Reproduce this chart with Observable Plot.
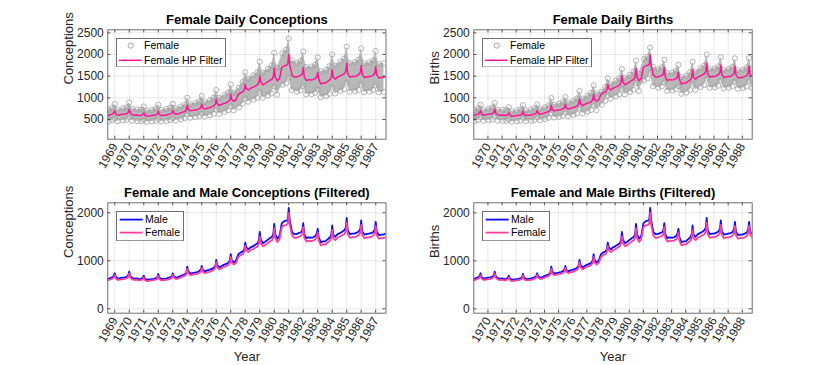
<!DOCTYPE html>
<html>
<head>
<meta charset="utf-8">
<script src="https://cdn.jsdelivr.net/npm/d3@7"></script>
<script src="https://cdn.jsdelivr.net/npm/@observablehq/plot@0.6"></script>
<style>
  html, body { margin: 0; padding: 0; background: #fff; }
  #chart { position: relative; width: 830px; height: 365px; background: #fff; overflow: hidden;
           font-family: "Liberation Sans", Arial, Helvetica, sans-serif; }
  #chart > svg, #chart > .legend { position: absolute; }
</style>
</head>
<body>
<div id="chart"></div>
<script>
// ---------------- DATA ----------------
const firstYear = 1969;
const conceptionTicks = [1969,1970,1971,1972,1973,1974,1975,1976,1977,1978,1979,1980,1981,1982,1983,1984,1985,1986,1987];
const birthTicks      = [1970,1971,1972,1973,1974,1975,1976,1977,1978,1979,1980,1981,1982,1983,1984,1985,1986,1987,1988];
const conceptionLag = 0.48;          // years between a birth date and its conception date on the axes
const conceptionDomain = [1968.52, 1987.71];
const birthDomain = [1969.0, 1988.70];
const topYTicks = [500, 1000, 1500, 2000, 2500];
const bottomYTicks = [0, 1000, 2000];
const topYDomain = [45, 2570];
const bottomYDomain = [-92, 2208];

// sample positions inside each birth year for the filtered series
const linePhase = [0.00, 0.17, 0.33, 0.42, 0.48, 0.55, 0.70, 0.85];
// sample positions inside each birth year for the daily-scatter envelope
const bandPhase = [0.05, 0.30, 0.48, 0.68];

// Female HP-filtered daily counts (1969 ... 1988)
const femaleHP = [
  590, 610, 630, 660, 700, 630, 600, 610,
  620, 625, 640, 670, 735, 650, 610, 600,
  605, 590, 600, 620, 655, 600, 575, 580,
  590, 595, 610, 630, 690, 620, 590, 595,
  600, 615, 630, 650, 705, 650, 620, 630,
  650, 670, 690, 720, 830, 740, 700, 710,
  720, 730, 750, 780, 850, 770, 740, 760,
  770, 790, 820, 860, 970, 870, 820, 850,
  870, 890, 920, 960, 1080, 960, 920, 960,
  1080, 1120, 1140, 1190, 1310, 1220, 1180, 1220,
  1240, 1270, 1300, 1360, 1510, 1370, 1300, 1330,
  1360, 1400, 1430, 1490, 1680, 1480, 1390, 1450,
  1700, 1740, 1750, 1780, 2000, 1760, 1530, 1480,
  1480, 1500, 1520, 1560, 1700, 1480, 1400, 1420,
  1410, 1420, 1450, 1500, 1590, 1420, 1320, 1340,
  1340, 1380, 1420, 1480, 1650, 1470, 1430, 1480,
  1500, 1530, 1560, 1620, 1800, 1560, 1480, 1490,
  1490, 1510, 1540, 1590, 1750, 1540, 1470, 1480,
  1490, 1500, 1530, 1580, 1720, 1530, 1460, 1470,
  1470, 1490, 1520, 1580, 1730, 1540, 1480
];
// Male HP-filtered daily counts
const maleHP = [
  620, 640, 660, 690, 740, 660, 630, 640,
  650, 655, 670, 705, 775, 680, 640, 630,
  635, 620, 630, 650, 690, 630, 605, 610,
  620, 625, 640, 660, 726, 650, 620, 625,
  630, 645, 660, 680, 740, 680, 650, 660,
  680, 700, 725, 755, 880, 780, 735, 745,
  755, 765, 790, 820, 893, 810, 780, 800,
  810, 830, 860, 900, 1020, 915, 860, 890,
  915, 935, 965, 1010, 1140, 1010, 965, 1010,
  1135, 1175, 1195, 1250, 1380, 1280, 1240, 1280,
  1300, 1335, 1365, 1430, 1600, 1440, 1365, 1395,
  1430, 1470, 1500, 1565, 1770, 1555, 1460, 1520,
  1780, 1825, 1835, 1870, 2100, 1850, 1605, 1555,
  1555, 1575, 1595, 1640, 1785, 1555, 1470, 1490,
  1480, 1490, 1520, 1575, 1665, 1490, 1385, 1405,
  1405, 1450, 1490, 1555, 1735, 1545, 1500, 1555,
  1575, 1605, 1640, 1700, 1895, 1640, 1555, 1565,
  1565, 1585, 1615, 1670, 1840, 1615, 1545, 1555,
  1565, 1575, 1605, 1660, 1810, 1605, 1535, 1545,
  1545, 1565, 1595, 1660, 1810, 1615, 1555
];

// Envelope of the female daily conceptions scatter
const concDailyHigh = [
  725, 770, 860, 730,   755, 780, 890, 745,   730, 730, 800, 700,   720, 745, 840, 720,
  740, 770, 860, 755,   800, 840, 1000, 855,  880, 915, 1040, 900,  945, 1000, 1180, 1000,
  1065, 1120, 1310, 1120, 1230, 1365, 1590, 1440, 1520, 1585, 1830, 1585, 1665, 1745, 2040, 1695,
  2030, 2110, 2370, 1865, 1805, 1855, 2070, 1710, 1720, 1770, 1930, 1610, 1645, 1730, 2000, 1745,
  1835, 1905, 2180, 1805, 1825, 1880, 2140, 1795, 1815, 1865, 2080, 1780, 1800, 1855, 2090, 1805
];
const concDailyLow = [
  460, 485, 525, 460,   475, 495, 550, 470,   460, 460, 490, 445,   455, 470, 515, 455,
  465, 485, 530, 475,   505, 530, 620, 540,   555, 575, 640, 570,   595, 630, 730, 630,
  675, 710, 810, 710,   780, 860, 985, 910,   960, 1000, 1135, 1000, 1050, 1100, 1260, 1070,
  1300, 1335, 1470, 1180, 1140, 1170, 1275, 1080, 1085, 1115, 1190, 1015, 1040, 1095, 1240, 1100,
  1160, 1200, 1350, 1140, 1150, 1185, 1310, 1130, 1145, 1180, 1290, 1125, 1135, 1170, 1300, 1140
];
// Envelope of the female daily births scatter
const birthDailyHigh = [
  715, 755, 840, 720,   745, 770, 880, 730,   720, 720, 785, 690,   710, 730, 830, 710,
  725, 755, 845, 745,   785, 830, 995, 840,   865, 900, 1020, 890,  930, 985, 1160, 985,
  1050, 1105, 1290, 1100, 1140, 1255, 1450, 1320, 1395, 1455, 1665, 1455, 1530, 1600, 1860, 1555,
  1900, 1950, 2160, 1715, 1660, 1700, 1880, 1570, 1580, 1625, 1760, 1480, 1510, 1590, 1830, 1600,
  1685, 1745, 2000, 1660, 1675, 1725, 1940, 1645, 1670, 1715, 1910, 1635, 1650, 1700, 1920, 1660
];
const birthDailyLow = [
  465, 490, 545, 470,   485, 500, 575, 475,   470, 470, 510, 450,   460, 475, 540, 460,
  470, 490, 550, 485,   510, 540, 650, 545,   560, 585, 665, 575,   605, 640, 755, 640,
  680, 720, 840, 715,   840, 930, 1060, 980,  1035, 1080, 1210, 1080, 1135, 1185, 1345, 1155,
  1400, 1445, 1580, 1270, 1230, 1260, 1360, 1160, 1170, 1205, 1270, 1095, 1120, 1180, 1320, 1185,
  1250, 1295, 1440, 1230, 1240, 1280, 1400, 1220, 1235, 1270, 1375, 1210, 1225, 1260, 1385, 1230
];

// ---------------- build tables ----------------
function seriesRows(values, phases, shift) {
  return values.map((v, i) => ({
    t: firstYear + Math.floor(i / phases.length) + phases[i % phases.length] - shift,
    v
  }));
}
function bandRows(lo, hi, phases, shift) {
  return lo.map((l, i) => ({
    t: firstYear + Math.floor(i / phases.length) + phases[i % phases.length] - shift,
    lo: l, hi: hi[i]
  }));
}
const inside = (dom) => (d) => d.t >= dom[0] - 0.06 && d.t <= dom[1] + 0.06;

const concFemale = seriesRows(femaleHP, linePhase, conceptionLag).filter(inside(conceptionDomain));
const concMale = seriesRows(maleHP, linePhase, conceptionLag).filter(inside(conceptionDomain));
const birthFemale = seriesRows(femaleHP, linePhase, 0).filter(inside(birthDomain));
const birthMale = seriesRows(maleHP, linePhase, 0).filter(inside(birthDomain));
const concBand = bandRows(concDailyLow, concDailyHigh, bandPhase, conceptionLag).filter(inside(conceptionDomain));
const birthBand = bandRows(birthDailyLow, birthDailyHigh, bandPhase, 0).filter(inside(birthDomain));

// ---------------- styling ----------------
const FONT = "'Liberation Sans', Arial, Helvetica, sans-serif";
const INK = "#262626";
const PINK = "#ff1493";
const PINK2 = "#ff3d9a";
const BLUE = "#0a0aff";
const GRAY_FILL = "#b8b8b8";
const GRAY_EDGE = "#a0a0a0";

function panel(cfg) {
  const {left, top, width, height, ml, mr, mt, mb, xDomain, xTicks, yDomain, yTicks,
         title, ylabel, xlabel, marks} = cfg;
  const frameH = height - mt - mb;
  const frameW = width - ml - mr;
  const svg = Plot.plot({
    width, height,
    marginLeft: ml, marginRight: mr, marginTop: mt, marginBottom: mb,
    style: {fontFamily: FONT, fontSize: "12px", color: INK, background: "transparent", overflow: "visible"},
    x: {domain: xDomain, label: null},
    y: {domain: yDomain, label: null},
    marks: [
      Plot.gridX(xTicks, {stroke: INK, strokeOpacity: 0.13, strokeWidth: 0.8}),
      Plot.gridY(yTicks, {stroke: INK, strokeOpacity: 0.13, strokeWidth: 0.8}),
      ...marks,
      // inward tick marks on all four sides
      Plot.ruleX(xTicks, {insetTop: frameH - 3, stroke: INK, strokeWidth: 0.8}),
      Plot.ruleX(xTicks, {insetBottom: frameH - 3, stroke: INK, strokeWidth: 0.8}),
      Plot.ruleY(yTicks, {insetRight: frameW - 3, stroke: INK, strokeWidth: 0.8}),
      Plot.ruleY(yTicks, {insetLeft: frameW - 3, stroke: INK, strokeWidth: 0.8}),
      Plot.axisX(xTicks, {anchor: "bottom", tickSize: 0, tickPadding: 5, tickRotate: -60,
                          tickFormat: (d) => String(d), fontSize: 12, fill: INK}),
      Plot.axisY(yTicks, {anchor: "left", tickSize: 0, tickPadding: 4,
                          tickFormat: (d) => String(d), fontSize: 12, fill: INK}),
      Plot.frame({stroke: "#6e6e6e", strokeWidth: 1}),
      Plot.text([title], {text: (d) => d, frameAnchor: "top", lineAnchor: "middle", dy: -10,
                          fontWeight: "bold", fontSize: 13, fill: "#000"}),
      Plot.text([ylabel], {text: (d) => d, frameAnchor: "left", lineAnchor: "middle", rotate: -90,
                           dx: -39, fontSize: 13, fill: INK}),
      ...(xlabel ? [Plot.text([xlabel], {text: (d) => d, frameAnchor: "bottom", lineAnchor: "middle",
                                         dy: 44, fontSize: 13, fill: INK})] : [])
    ]
  });
  svg.style.left = left + "px";
  svg.style.top = top + "px";
  return svg;
}

function legend(left, top, w, h, items, textX) {
  const div = document.createElement("div");
  div.className = "legend";
  div.style.left = left + "px";
  div.style.top = top + "px";
  let s = `<svg width="${w}" height="${h}" xmlns="http://www.w3.org/2000/svg" style="display:block;font-family:${FONT}">`;
  s += `<rect x="0.5" y="0.5" width="${w - 1}" height="${h - 1}" fill="#fff" stroke="#6e6e6e" stroke-width="1"/>`;
  for (const it of items) {
    if (it.kind === "circle") {
      s += `<circle cx="${it.cx}" cy="${it.y}" r="2.6" fill="none" stroke="${it.color}" stroke-width="0.9"/>`;
    } else {
      s += `<line x1="${it.x1}" x2="${it.x2}" y1="${it.y}" y2="${it.y}" stroke="${it.color}" stroke-width="${it.sw}"/>`;
    }
    s += `<text x="${textX}" y="${it.y}" dy="0.35em" font-size="10.5" fill="#000">${it.label}</text>`;
  }
  s += `</svg>`;
  div.innerHTML = s;
  return div;
}

const chart = document.getElementById("chart");

// ---- top-left: Female Daily Conceptions ----
chart.appendChild(panel({
  left: 0, top: 0, width: 415, height: 182, ml: 107.3, mr: 29.5, mt: 29.3, mb: 43.3,
  xDomain: conceptionDomain, xTicks: conceptionTicks, yDomain: topYDomain, yTicks: topYTicks,
  title: "Female Daily Conceptions", ylabel: "Conceptions",
  marks: [
    Plot.areaY(concBand, {x: "t", y1: "lo", y2: "hi", fill: GRAY_FILL, clip: true}),
    Plot.dot(concBand, {x: "t", y: "hi", r: 2.6, stroke: GRAY_EDGE, strokeWidth: 0.8, clip: true}),
    Plot.dot(concBand, {x: "t", y: "lo", r: 2.6, stroke: GRAY_EDGE, strokeWidth: 0.8, clip: true}),
    Plot.line(concFemale, {x: "t", y: "v", stroke: PINK, strokeWidth: 1.5, clip: true})
  ]
}));
// ---- top-right: Female Daily Births ----
chart.appendChild(panel({
  left: 415, top: 0, width: 415, height: 182, ml: 58.3, mr: 78.3, mt: 29.3, mb: 43.3,
  xDomain: birthDomain, xTicks: birthTicks, yDomain: topYDomain, yTicks: topYTicks,
  title: "Female Daily Births", ylabel: "Births",
  marks: [
    Plot.areaY(birthBand, {x: "t", y1: "lo", y2: "hi", fill: GRAY_FILL, clip: true}),
    Plot.dot(birthBand, {x: "t", y: "hi", r: 2.6, stroke: GRAY_EDGE, strokeWidth: 0.8, clip: true}),
    Plot.dot(birthBand, {x: "t", y: "lo", r: 2.6, stroke: GRAY_EDGE, strokeWidth: 0.8, clip: true}),
    Plot.line(birthFemale, {x: "t", y: "v", stroke: PINK, strokeWidth: 1.5, clip: true})
  ]
}));
// ---- bottom-left: Female and Male Conceptions (Filtered) ----
chart.appendChild(panel({
  left: 0, top: 182, width: 415, height: 183, ml: 107.3, mr: 29.5, mt: 20.3, mb: 52.3,
  xDomain: conceptionDomain, xTicks: conceptionTicks, yDomain: bottomYDomain, yTicks: bottomYTicks,
  title: "Female and Male Conceptions (Filtered)", ylabel: "Conceptions", xlabel: "Year",
  marks: [
    Plot.line(concMale, {x: "t", y: "v", stroke: BLUE, strokeWidth: 1.8, clip: true}),
    Plot.line(concFemale, {x: "t", y: "v", stroke: PINK2, strokeWidth: 1.8, clip: true})
  ]
}));
// ---- bottom-right: Female and Male Births (Filtered) ----
chart.appendChild(panel({
  left: 415, top: 182, width: 415, height: 183, ml: 58.3, mr: 78.3, mt: 20.3, mb: 52.3,
  xDomain: birthDomain, xTicks: birthTicks, yDomain: bottomYDomain, yTicks: bottomYTicks,
  title: "Female and Male Births (Filtered)", ylabel: "Births", xlabel: "Year",
  marks: [
    Plot.line(birthMale, {x: "t", y: "v", stroke: BLUE, strokeWidth: 1.8, clip: true}),
    Plot.line(birthFemale, {x: "t", y: "v", stroke: PINK2, strokeWidth: 1.8, clip: true})
  ]
}));

// ---- legends ----
const topItems = [
  {kind: "circle", cx: 14.7, y: 7.6, color: "#9a9a9a", label: "Female"},
  {kind: "line", x1: 2.7, x2: 25.7, y: 22.3, color: PINK, sw: 1.5, label: "Female HP Filter"}
];
const bottomItems = [
  {kind: "line", x1: 3.7, x2: 26.7, y: 8.6, color: BLUE, sw: 1.8, label: "Male"},
  {kind: "line", x1: 3.7, x2: 26.7, y: 21.6, color: PINK2, sw: 1.8, label: "Female"}
];
chart.appendChild(legend(116, 37.7, 110, 29.5, topItems, 28));
chart.appendChild(legend(481.5, 37.7, 110, 29.5, topItems, 28));
chart.appendChild(legend(115.5, 210.7, 68, 30.3, bottomItems, 29));
chart.appendChild(legend(481.5, 210.7, 68, 30.3, bottomItems, 29));
</script>
</body>
</html>
